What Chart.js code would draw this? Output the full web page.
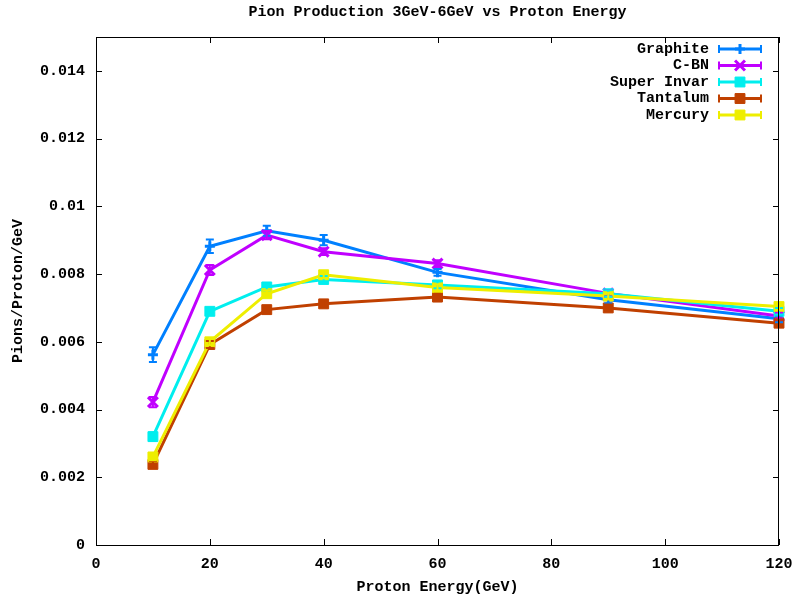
<!DOCTYPE html>
<html>
<head>
<meta charset="utf-8">
<title>Pion Production</title>
<script src="https://cdn.jsdelivr.net/npm/chart.js@4.4.1/dist/chart.umd.min.js"></script>
<style>
  html, body { margin: 0; padding: 0; background: #fff; }
  canvas { display: block; }
</style>
</head>
<body>
<canvas id="pions" width="795" height="599"></canvas>
<script>
// proton energies (GeV) on the x axis
var energies = [10, 20, 30, 40, 60, 90, 120];

var targetNames = ["Graphite", "C-BN", "Super Invar", "Tantalum", "Mercury"];
var targetColors = ["#0080ff", "#c000ff", "#00eeee", "#c04000", "#eeee00"];

// pions / proton / GeV
var graphite   = [0.00562, 0.00882, 0.00928, 0.00900, 0.00805, 0.00724, 0.00668];
var cbn        = [0.00422, 0.00812, 0.00915, 0.00866, 0.00831, 0.00743, 0.00676];
var superInvar = [0.00320, 0.00690, 0.00762, 0.00784, 0.00768, 0.00742, 0.00690];
var tantalum   = [0.00238, 0.00592, 0.00695, 0.00712, 0.00732, 0.00700, 0.00655];
var mercury    = [0.00260, 0.00600, 0.00742, 0.00798, 0.00760, 0.00735, 0.00704];

// error bar half-widths
var graphiteErr   = [0.00022, 0.00020, 0.00015, 0.00015, 0.00010, 0.00010, 0.00010];
var cbnErr        = [0.00015, 0.00015, 0.00012, 0.00010, 0.00010, 0.00010, 0.00010];
var superInvarErr = [0.00012, 0.00010, 0.00010, 0.00010, 0.00010, 0.00010, 0.00010];
var tantalumErr   = [0.00010, 0.00010, 0.00010, 0.00010, 0.00010, 0.00010, 0.00010];
var mercuryErr    = [0.00010, 0.00010, 0.00010, 0.00010, 0.00010, 0.00010, 0.00010];

var xTicks = [0, 20, 40, 60, 80, 100, 120];
var yTicks = [0, 0.002, 0.004, 0.006, 0.008, 0.01, 0.012, 0.014];

var chartTitle = "Pion Production 3GeV-6GeV vs Proton Energy";
var xTitle = "Proton Energy(GeV)";
var yTitle = "Pions/Proton/GeV";

var series = [graphite, cbn, superInvar, tantalum, mercury];
var errors = [graphiteErr, cbnErr, superInvarErr, tantalumErr, mercuryErr];
var styles = ["cross", "crossRot", "rect", "rect", "rect"];

var gpFont = { family: "'Liberation Mono', 'DejaVu Sans Mono', monospace", size: 15, weight: "bold" };

function toPoints(values) {
    var pts = [];
    for (var i = 0; i < values.length; i++) {
        pts.push({ x: energies[i], y: values[i] });
    }
    return pts;
}

var datasets = [];
for (var i = 0; i < series.length; i++) {
    var isRect = styles[i] === "rect";
    datasets.push({
        label: targetNames[i],
        data: toPoints(series[i]),
        errors: errors[i],
        borderColor: targetColors[i],
        backgroundColor: targetColors[i],
        borderWidth: 3,
        pointStyle: styles[i],
        pointRadius: isRect ? 7 : (styles[i] === "cross" ? 5 : 7),
        pointBorderWidth: isRect ? 1 : 3,
        pointBackgroundColor: targetColors[i],
        pointBorderColor: targetColors[i],
        tension: 0,
        clip: false,
        order: series.length - i   // later series drawn on top, like gnuplot
    });
}

// vertical error bars, using the chart's own scales
var errorBars = {
    id: "errorBars",
    afterDatasetsDraw: function(chart) {
        var ctx = chart.ctx;
        var yScale = chart.scales.y;
        ctx.save();
        for (var d = 0; d < chart.data.datasets.length; d++) {
            var ds = chart.data.datasets[d];
            var meta = chart.getDatasetMeta(d);
            ctx.strokeStyle = ds.borderColor;
            ctx.lineWidth = 2;
            for (var k = 0; k < ds.data.length; k++) {
                var px = meta.data[k].x;
                var top = yScale.getPixelForValue(ds.data[k].y + ds.errors[k]);
                var bot = yScale.getPixelForValue(ds.data[k].y - ds.errors[k]);
                ctx.beginPath();
                ctx.moveTo(px, top); ctx.lineTo(px, bot);
                ctx.moveTo(px - 4, top); ctx.lineTo(px + 4, top);
                ctx.moveTo(px - 4, bot); ctx.lineTo(px + 4, bot);
                ctx.stroke();
            }
        }
        ctx.restore();
    }
};

// border, inward tick marks, title and the key
var gnuplotFrame = {
    id: "gnuplotFrame",
    afterDraw: function(chart) {
        var ctx = chart.ctx;
        var a = chart.chartArea;
        var xs = chart.scales.x, ys = chart.scales.y;
        ctx.save();
        ctx.strokeStyle = "#000";
        ctx.lineWidth = 1;
        ctx.strokeRect(a.left + 0.5, a.top + 0.5, a.right - a.left - 1, a.bottom - a.top);
        ctx.beginPath();
        xTicks.forEach(function(v) {
            var px = Math.round(xs.getPixelForValue(v)) + 0.5;
            ctx.moveTo(px, a.bottom); ctx.lineTo(px, a.bottom - 6);
            ctx.moveTo(px, a.top); ctx.lineTo(px, a.top + 6);
        });
        yTicks.forEach(function(v) {
            var py = Math.round(ys.getPixelForValue(v)) + 0.5;
            ctx.moveTo(a.left, py); ctx.lineTo(a.left + 6, py);
            ctx.moveTo(a.right, py); ctx.lineTo(a.right - 6, py);
        });
        ctx.stroke();

        ctx.fillStyle = "#000";
        ctx.font = "bold 15px " + gpFont.family;
        ctx.textAlign = "center";
        ctx.textBaseline = "middle";
        ctx.fillText(chartTitle, (a.left + a.right) / 2, 12);

        // key, top right inside the plot
        var rowY = 49;
        for (var d = 0; d < chart.data.datasets.length; d++) {
            var ds = chart.data.datasets[d];
            ctx.fillStyle = "#000";
            ctx.textAlign = "right";
            ctx.fillText(ds.label, 709, rowY);
            ctx.strokeStyle = ds.borderColor;
            ctx.lineWidth = 3;
            ctx.beginPath();
            ctx.moveTo(718, rowY); ctx.lineTo(762, rowY);
            ctx.stroke();
            ctx.lineWidth = 2;
            ctx.beginPath();
            ctx.moveTo(719, rowY - 4); ctx.lineTo(719, rowY + 4);
            ctx.moveTo(761, rowY - 4); ctx.lineTo(761, rowY + 4);
            ctx.stroke();
            ctx.fillStyle = ds.backgroundColor;
            ctx.lineWidth = ds.pointBorderWidth;
            Chart.helpers.drawPoint(ctx, {
                pointStyle: ds.pointStyle,
                radius: ds.pointRadius,
                rotation: 0,
                borderWidth: ds.pointBorderWidth
            }, 740, rowY);
            rowY += 16.5;
        }
        ctx.restore();
    }
};

new Chart(document.getElementById("pions"), {
    type: "line",
    data: { datasets: datasets },
    options: {
        responsive: false,
        devicePixelRatio: 1,
        animation: false,
        layout: { padding: { top: 37, right: 16, left: 0, bottom: 0 } },
        plugins: {
            legend: { display: false },
            title: { display: false },
            tooltip: { enabled: false }
        },
        scales: {
            x: {
                type: "linear",
                min: 0,
                max: 120,
                afterBuildTicks: function(scale) {
                    scale.ticks = xTicks.map(function(v) { return { value: v }; });
                },
                afterFit: function(scale) {
                    scale.height = 54;
                    scale.paddingLeft = 0;
                    scale.paddingRight = 0;
                },
                grid: { display: false, drawTicks: false },
                border: { display: false },
                ticks: { color: "#000", font: gpFont, padding: 10, maxRotation: 0 },
                title: { display: true, text: xTitle, color: "#000", font: gpFont, padding: { top: 0, bottom: 3 } }
            },
            y: {
                type: "linear",
                min: 0,
                max: 0.015,
                afterBuildTicks: function(scale) {
                    scale.ticks = yTicks.map(function(v) { return { value: v }; });
                },
                afterFit: function(scale) {
                    scale.width = 96;
                    scale.paddingTop = 0;
                    scale.paddingBottom = 0;
                },
                grid: { display: false, drawTicks: false },
                border: { display: false },
                ticks: {
                    color: "#000",
                    font: gpFont,
                    padding: 11,
                    callback: function(v) { return String(Number(v.toFixed(3))); }
                },
                title: { display: true, text: yTitle, color: "#000", font: gpFont, padding: { top: 9, bottom: 0 } }
            }
        }
    },
    plugins: [errorBars, gnuplotFrame]
});
</script>
</body>
</html>
